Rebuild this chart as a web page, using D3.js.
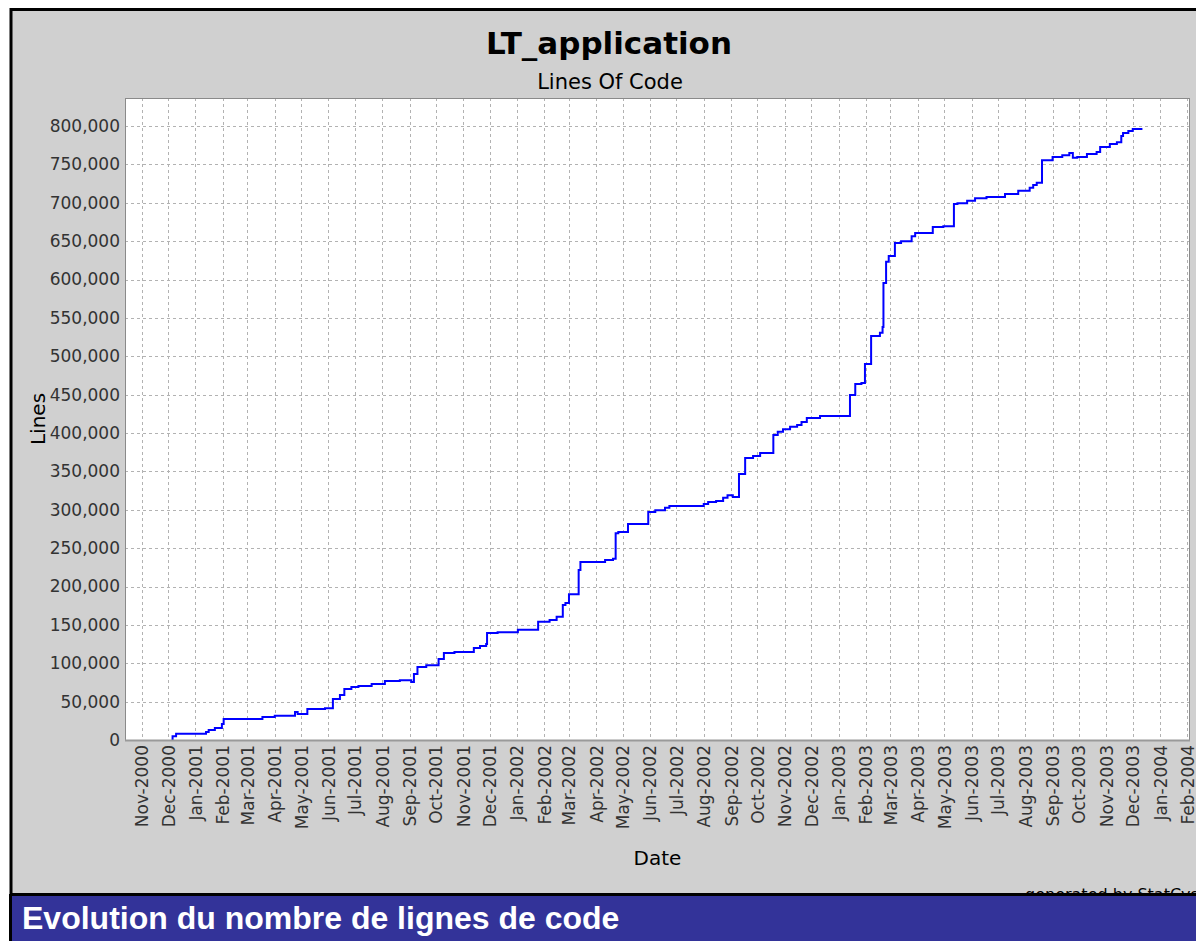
<!DOCTYPE html>
<html>
<head>
<meta charset="utf-8">
<script src="https://cdn.jsdelivr.net/npm/d3@7"></script>
<style>
  html, body { margin: 0; padding: 0; background: #fff; overflow: hidden; }
  svg { display: block; }
</style>
</head>
<body>
<svg id="chart"></svg>
<script>
// commit dates and total lines of code (step series)
const commitDates = [
  '2000-12-05', '2000-12-06', '2000-12-10', '2001-01-13', '2001-01-16', '2001-01-23', '2001-01-31', '2001-02-02',
  '2001-03-18', '2001-04-01', '2001-04-24', '2001-04-27', '2001-05-08', '2001-05-28', '2001-06-06', '2001-06-14',
  '2001-06-19', '2001-06-27', '2001-07-05', '2001-07-20', '2001-08-04', '2001-08-21', '2001-09-03', '2001-09-06',
  '2001-09-10', '2001-09-20', '2001-10-04', '2001-10-10', '2001-10-22', '2001-11-13', '2001-11-20', '2001-11-27',
  '2001-11-28', '2001-12-10', '2002-01-02', '2002-01-25', '2002-02-07', '2002-02-15', '2002-02-22', '2002-02-25',
  '2002-03-01', '2002-03-12', '2002-03-14', '2002-04-11', '2002-04-20', '2002-04-23', '2002-04-26', '2002-05-07',
  '2002-05-30', '2002-06-07', '2002-06-18', '2002-06-23', '2002-08-01', '2002-08-06', '2002-08-15', '2002-08-23',
  '2002-08-28', '2002-09-03', '2002-09-10', '2002-09-17', '2002-09-26', '2002-10-04', '2002-10-19', '2002-10-24',
  '2002-10-30', '2002-11-07', '2002-11-15', '2002-11-20', '2002-11-26', '2002-12-11', '2003-01-14', '2003-01-20',
  '2003-01-27', '2003-01-31', '2003-02-07', '2003-02-17', '2003-02-20', '2003-02-21', '2003-02-24', '2003-02-27',
  '2003-03-06', '2003-03-13', '2003-03-25', '2003-03-29', '2003-04-18', '2003-04-30', '2003-05-12', '2003-05-16',
  '2003-05-27', '2003-06-05', '2003-06-18', '2003-07-09', '2003-07-24', '2003-08-06', '2003-08-10', '2003-08-14',
  '2003-08-20', '2003-09-01', '2003-09-12', '2003-09-20', '2003-09-24', '2003-09-29', '2003-10-10', '2003-10-21',
  '2003-10-25', '2003-11-05', '2003-11-13', '2003-11-18', '2003-11-20', '2003-11-26', '2003-12-01', '2003-12-12'
];
const lineCounts = [
  0, 5000, 8000, 10500, 13000, 15500, 21000, 27500,
  30000, 31500, 36500, 34000, 40500, 41500, 53500, 58500,
  66500, 69000, 70500, 73000, 77000, 78000, 75500, 86000,
  95000, 97500, 105500, 113500, 114500, 120000, 122500, 125000,
  139500, 140500, 143500, 154000, 156500, 160500, 176000, 178500,
  190000, 221500, 232000, 234500, 236000, 269500, 271000, 281500,
  297000, 299500, 302500, 305000, 307500, 310000, 311500, 315500,
  319000, 316500, 346500, 367500, 370000, 374000, 397500, 401500,
  405000, 408000, 410500, 414500, 419500, 422000, 449500, 464000,
  465000, 490000, 526500, 530500, 538000, 595500, 623000, 630500,
  647500, 650000, 656500, 660500, 668500, 669500, 698500, 699500,
  702500, 706000, 707500, 711500, 715500, 719500, 723000, 726000,
  755500, 759500, 762000, 765000, 758500, 759500, 763500, 766000,
  772500, 776500, 779000, 787000, 791000, 793500, 796000, 796000
];
const dateDomain = ['2000-10-13', '2004-02-04'];
const valueDomain = [0, 836500];
const valueTicks = d3.range(0, 800001, 50000);

const chartTitle = 'LT_application';
const chartSubtitle = 'Lines Of Code';
const xAxisTitle = 'Date';
const yAxisTitle = 'Lines';
const creditText = 'generated by StatCvs';
const captionText = 'Evolution du nombre de lignes de code';

const W = 1196, H = 941;
const plot = { left: 125, top: 98, right: 1190, bottom: 740 };
const FONT = '"DejaVu Sans", sans-serif';

const parse = d3.timeParse('%Y-%m-%d');
const data = commitDates.map((d, i) => ({ date: parse(d), value: lineCounts[i] }));

const svg = d3.select('#chart').attr('width', W).attr('height', H);

// chart panel
svg.append('rect').attr('x', 11).attr('y', 9.5).attr('width', W).attr('height', 885)
  .attr('fill', '#d0d0d0').attr('stroke', '#000').attr('stroke-width', 3);

const x = d3.scaleTime().domain(dateDomain.map(parse)).range([plot.left, plot.right]);
const y = d3.scaleLinear().domain(valueDomain).range([plot.bottom, plot.top]);

svg.append('rect')
  .attr('x', plot.left).attr('y', plot.top)
  .attr('width', plot.right - plot.left).attr('height', plot.bottom - plot.top)
  .attr('fill', '#fff');

const months = d3.timeMonth.range(d3.timeMonth.ceil(x.domain()[0]), x.domain()[1]);
const fmtMonth = d3.timeFormat('%b-%Y');

// grid
const grid = svg.append('g').attr('stroke', '#b2b2b2').attr('stroke-width', 1).attr('stroke-dasharray', '3,3');
grid.selectAll('line.v').data(months).enter().append('line')
  .attr('x1', d => Math.round(x(d)) + 0.5).attr('x2', d => Math.round(x(d)) + 0.5)
  .attr('y1', plot.top).attr('y2', plot.bottom);
grid.selectAll('line.h').data(valueTicks.slice(1)).enter().append('line')
  .attr('x1', plot.left).attr('x2', plot.right)
  .attr('y1', d => Math.round(y(d)) + 0.5).attr('y2', d => Math.round(y(d)) + 0.5);

// series
const line = d3.line().curve(d3.curveStepAfter).x(d => x(d.date)).y(d => y(d.value));
svg.append('path').datum(data)
  .attr('d', line).attr('fill', 'none').attr('stroke', '#0000ff').attr('stroke-width', 2);

// plot border
svg.append('rect')
  .attr('x', plot.left + 0.5).attr('y', plot.top + 0.5)
  .attr('width', plot.right - plot.left - 1).attr('height', plot.bottom - plot.top)
  .attr('fill', 'none').attr('stroke', '#8a8a8a').attr('stroke-width', 1);
svg.append('line').attr('x1', plot.left).attr('x2', plot.right)
  .attr('y1', plot.bottom + 0.5).attr('y2', plot.bottom + 0.5)
  .attr('stroke', '#9a9a9a').attr('stroke-width', 2);

// axes
const yAxis = d3.axisLeft(y).tickValues(valueTicks).tickFormat(d3.format(',')).tickSize(0).tickPadding(5);
const gy = svg.append('g').attr('transform', `translate(${plot.left},0)`).call(yAxis);
gy.select('.domain').remove();
gy.selectAll('text').attr('font-family', FONT).attr('font-size', 17).attr('fill', '#333');

const xAxis = d3.axisBottom(x).tickValues(months).tickFormat(fmtMonth).tickSize(0);
const gx = svg.append('g').attr('transform', `translate(0,${plot.bottom})`).call(xAxis);
gx.select('.domain').remove();
gx.selectAll('text')
  .attr('font-family', FONT).attr('font-size', 17).attr('fill', '#333')
  .attr('text-anchor', 'end')
  .attr('y', 0).attr('dy', '0.35em')
  .attr('transform', 'translate(0,5) rotate(-90)');

// titles
svg.append('text').attr('x', 609).attr('y', 54).attr('text-anchor', 'middle')
  .attr('font-family', FONT).attr('font-size', 31).attr('font-weight', 'bold').attr('fill', '#000')
  .text(chartTitle);
svg.append('text').attr('x', 610).attr('y', 89).attr('text-anchor', 'middle')
  .attr('font-family', FONT).attr('font-size', 21).attr('fill', '#000')
  .text(chartSubtitle);
svg.append('text').attr('x', (plot.left + plot.right) / 2).attr('y', 865).attr('text-anchor', 'middle')
  .attr('font-family', FONT).attr('font-size', 20).attr('fill', '#000')
  .text(xAxisTitle);
svg.append('text').attr('transform', `translate(38,${(plot.top + plot.bottom) / 2}) rotate(-90)`)
  .attr('text-anchor', 'middle').attr('dy', '0.35em')
  .attr('font-family', FONT).attr('font-size', 20).attr('fill', '#000')
  .text(yAxisTitle);

// credit, cut by the caption bar
svg.append('defs').append('clipPath').attr('id', 'credit-clip')
  .append('rect').attr('x', 0).attr('y', 0).attr('width', W).attr('height', 894);
svg.append('text').attr('x', 1025).attr('y', 900).attr('clip-path', 'url(#credit-clip)')
  .attr('font-family', FONT).attr('font-size', 16).attr('fill', '#000')
  .text(creditText);

// caption bar
svg.append('rect').attr('x', 9.5).attr('y', 896).attr('width', W).attr('height', H - 896).attr('fill', '#333399');
svg.append('line').attr('x1', 10.5).attr('x2', 10.5).attr('y1', 894).attr('y2', H).attr('stroke', '#000').attr('stroke-width', 3);
svg.append('text').attr('x', 22).attr('y', 929)
  .attr('font-family', '"Liberation Sans", Arial, sans-serif').attr('font-size', 32).attr('font-weight', 'bold')
  .attr('fill', '#fff')
  .text(captionText);
</script>
</body>
</html>
